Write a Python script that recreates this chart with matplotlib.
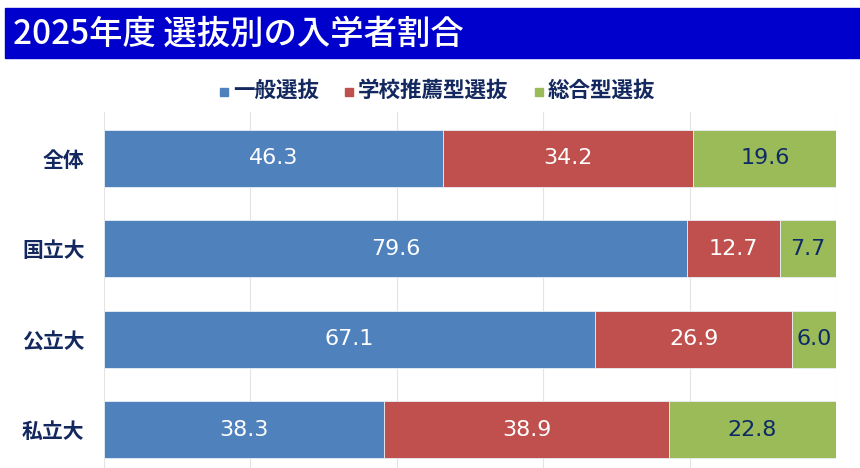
import numpy as np
import matplotlib.pyplot as plt
from matplotlib.patches import Rectangle

plt.rcParams['font.family'] = ['Noto Sans CJK JP', 'DejaVu Sans']

# data
categories = ['全体', '国立大', '公立大', '私立大']
series_names = ['一般選抜', '学校推薦型選抜', '総合型選抜']
general = [46.3, 79.6, 67.1, 38.3]
recommend = [34.2, 12.7, 26.9, 38.9]
comprehensive = [19.6, 7.7, 6.0, 22.8]

colors = ['#4F81BD', '#C0504D', '#9BBB59']
label_colors = ['white', 'white', '#0D2A66']
navy = '#13285E'

W, H = 860, 468
fig = plt.figure(figsize=(W / 100, H / 100), dpi=100)

# title banner
fig.patches.append(Rectangle((5 / W, 1 - 58 / H), 855 / W, 50 / H,
                             transform=fig.transFigure, color='#0000CC', zorder=0))
fig.text(13 / W, 1 - 34 / H, '2025年度 選抜別の入学者割合', color='white',
         fontsize=24, fontweight='medium', va='center', ha='left')

ax = fig.add_axes([104 / W, 0, 732 / W, (H - 112) / H])
y = np.arange(len(categories))
left = np.zeros(len(categories))
for vals, c, tc in zip([general, recommend, comprehensive], colors, label_colors):
    vals = np.array(vals)
    ax.barh(y, vals, left=left, height=0.63, color=c, edgecolor='#E8EEF6', linewidth=0.6, zorder=3)
    for yi, l, v in zip(y, left, vals):
        ax.text(l + v / 2, yi, f'{v:.1f}', ha='center', va='center', color=tc,
                fontsize=16, fontfamily=['DejaVu Sans'], zorder=4)
    left += vals

ax.set_xlim(0, 100)
ax.set_ylim(3 + 38 / 90.5, -46 / 90.5)
ax.set_xticks(np.arange(0, 101, 20))
ax.xaxis.grid(True, color='#E4E4E4', linewidth=0.8, zorder=0)
ax.tick_params(axis='x', length=0, labelbottom=False)
ax.set_yticks(y)
ax.set_yticklabels(categories, fontsize=15, fontweight='bold', color=navy)
ax.tick_params(axis='y', length=0, pad=14)
for s in ax.spines.values():
    s.set_visible(False)

# legend
lx = [220, 345, 535]
for xx, name, c in zip(lx, series_names, colors):
    fig.patches.append(Rectangle((xx / W, 1 - 96 / H), 8 / W, 8 / H,
                                 transform=fig.transFigure, color=c))
    fig.text((xx + 13) / W, 1 - 90 / H, name, color=navy, fontsize=15.5,
             fontweight='bold', va='center', ha='left')

fig.savefig('out.png', dpi=100)
